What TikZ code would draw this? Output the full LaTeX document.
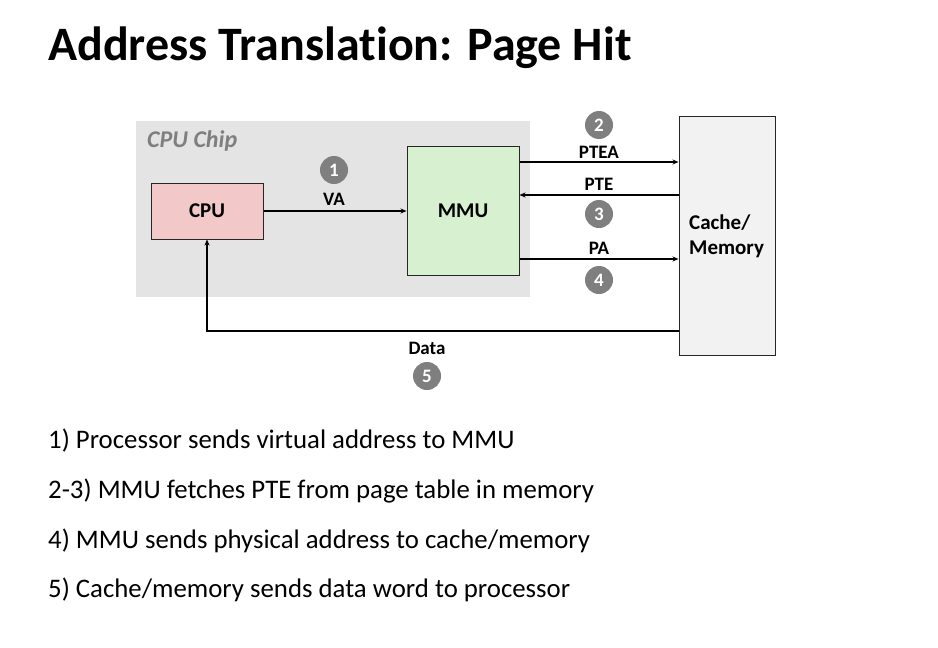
\documentclass[tikz,border=0pt]{standalone}
\usepackage{fontspec}
\setmainfont{Carlito}[Ligatures=NoCommon]
\usetikzlibrary{arrows.meta}
\definecolor{chipgray}{HTML}{E4E4E4}
\definecolor{cpupink}{HTML}{F2C8C8}
\definecolor{mmugreen}{HTML}{D7F0D0}
\definecolor{memgray}{HTML}{F2F2F2}
\definecolor{badgegray}{HTML}{7F7F7F}
\definecolor{chiptext}{HTML}{7F7F7F}
\tikzset{
  unit/.style={draw=black!85, line width=1pt, inner sep=0pt, font=\fontsize{21}{23}\selectfont\bfseries},
  link/.style={line width=1.6pt, -{Stealth[length=6pt,width=5pt]}},
  lbl/.style={font=\fontsize{19}{21}\selectfont\bfseries, inner sep=0pt},
  badge/.style={circle, fill=badgegray, minimum size=28pt, inner sep=0pt, text=white, font=\fontsize{19}{21}\selectfont\bfseries},
  bodytext/.style={anchor=west, inner sep=0pt, font=\fontsize{26.8}{30}\selectfont}
}
\begin{document}
\begin{tikzpicture}[x=1pt,y=-1pt]
\useasboundingbox (0,0) rectangle (938,648);
\node[anchor=west, inner sep=0pt, font=\fontsize{48}{54}\selectfont\bfseries] (title) at (48,47.5) {Address Translation: Page Hit};
% chip region
\node[fill=chipgray, minimum width=394pt, minimum height=176pt, inner sep=0pt] (chip) at (333,209) {};
\node[anchor=west, inner sep=0pt, text=chiptext, font=\fontsize{24}{26}\selectfont\bfseries\itshape] (chiplabel) at (147,141) {CPU Chip};
% boxes
\node[unit, fill=cpupink, minimum width=112pt, minimum height=56pt] (cpu) at (207,211) {CPU};
\node[unit, fill=mmugreen, minimum width=112pt, minimum height=129pt] (mmu) at (463,210.5) {MMU};
\node[unit, fill=memgray, minimum width=96pt, minimum height=239pt] (mem) at (727,235.5) {};
\node[anchor=west, inner sep=0pt, align=left, font=\fontsize{21}{25}\selectfont\bfseries] (memlabel) at (689,236) {Cache/\\Memory};
% anchors for arrows
\coordinate (ptea1) at (mmu.east |- 0,162);
\coordinate (ptea2) at (mem.west |- 0,162);
\coordinate (pte1) at (mem.west |- 0,195);
\coordinate (pte2) at (mmu.east |- 0,195);
\coordinate (pa1) at (mmu.east |- 0,259);
\coordinate (pa2) at (mem.west |- 0,259);
\coordinate (data1) at (mem.west |- 0,331);
\coordinate (datacorner) at (cpu.south |- 0,331);
% arrows
\draw[link] (cpu.east) -- (mmu.west |- cpu.east);
\draw[link] (ptea1) -- (ptea2);
\draw[link] (pte1) -- (pte2);
\draw[link] (pa1) -- (pa2);
\draw[link] (data1) -- (datacorner) -- (cpu.south);
% labels
\node[lbl] (va) at (334,199) {VA};
\node[badge] (b1) at (334,170) {1};
\node[lbl] (ptea) at (599,152) {PTEA};
\node[badge] (b2) at (599,125) {2};
\node[lbl] (pte) at (599,184) {PTE};
\node[badge] (b3) at (599,214) {3};
\node[lbl] (pa) at (599,248) {PA};
\node[badge] (b4) at (599,280) {4};
\node[lbl] (data) at (427,348) {Data};
\node[badge] (b5) at (427,376) {5};
% text
\node[bodytext] (t1) at (48,441) {1) Processor sends virtual address to MMU};
\node[bodytext] (t2) at (48,491) {2-3) MMU fetches PTE from page table in memory};
\node[bodytext] (t3) at (48,541) {4) MMU sends physical address to cache/memory};
\node[bodytext] (t4) at (48,590) {5) Cache/memory sends data word to processor};
\end{tikzpicture}
\end{document}
